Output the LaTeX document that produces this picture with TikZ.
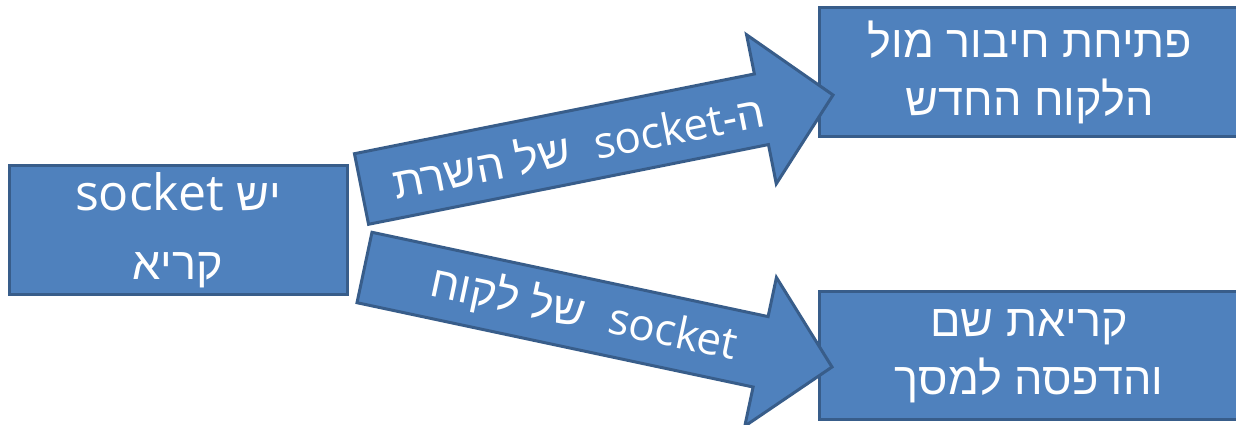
\documentclass[tikz,border=0pt]{standalone}
\usepackage{fontspec}
\setmainfont[Script=Hebrew]{Liberation Sans}
\newfontfamily\latfont{Open Sans}
\TeXXeTstate=1
\usetikzlibrary{calc}
\definecolor{boxblue}{HTML}{4F81BD}
\definecolor{boxline}{HTML}{385D8A}
\newcommand{\sockword}{\beginL{\latfont socket}\endL}
\tikzset{
  bluebox/.style={draw=boxline, fill=boxblue, line width=3pt, text=white,
    align=center, inner sep=0pt, font=\fontsize{45}{58}\selectfont},
  arrowtext/.style={text=white, inner sep=0pt, font=\fontsize{44}{52}\selectfont}
}
% block arrow: tail, tip, label position, label
\newcommand{\blockarrow}[4]{%
  \coordinate (hb) at ($(#2)!73pt!(#1)$);
  \draw[bluebox] ($(#1)!36pt!90:(#2)$) -- ($(hb)!36pt!90:(#2)$)
    -- ($(hb)!76pt!90:(#2)$) -- (#2) -- ($(hb)!76pt!-90:(#2)$)
    -- ($(hb)!36pt!-90:(#2)$) -- ($(#1)!36pt!-90:(#2)$) -- cycle;
  \path (#1) -- node[arrowtext, sloped, pos=#3] {#4} (#2);
}
\begin{document}
\begin{tikzpicture}[x=1pt, y=1pt]
  \clip (0,0) rectangle (1236,425);
  % boxes
  \node[bluebox, minimum width=338pt, minimum height=129pt,
    font=\fontsize{45}{69}\selectfont] (sock) at (178,194.5)
    {\beginR יש \beginL{\latfont\fontsize{50}{69}\selectfont socket}\endL\endR\\\beginR קריא\endR};
  \node[bluebox, minimum width=422pt, minimum height=129pt] (conn) at (1030,352.5)
    {\beginR פתיחת חיבור מול\endR\\\beginR הלקוח החדש\endR};
  \node[bluebox, minimum width=420pt, minimum height=128pt] (name) at (1029,69)
    {\beginR קריאת שם\endR\\\beginR והדפסה למסך\endR};
  % arrow ends
  \coordinate (up-tail) at (361.5,236);
  \coordinate (up-tip) at (833,330);
  \coordinate (dn-tail) at (364.5,157.5);
  \coordinate (dn-tip) at (832,58);
  \blockarrow{up-tail}{up-tip}{0.46}{\beginR ה-\sockword\ \ של השרת\endR}
  \blockarrow{dn-tail}{dn-tip}{0.47}{\beginR\sockword\ \ של לקוח\endR}
\end{tikzpicture}
\end{document}
